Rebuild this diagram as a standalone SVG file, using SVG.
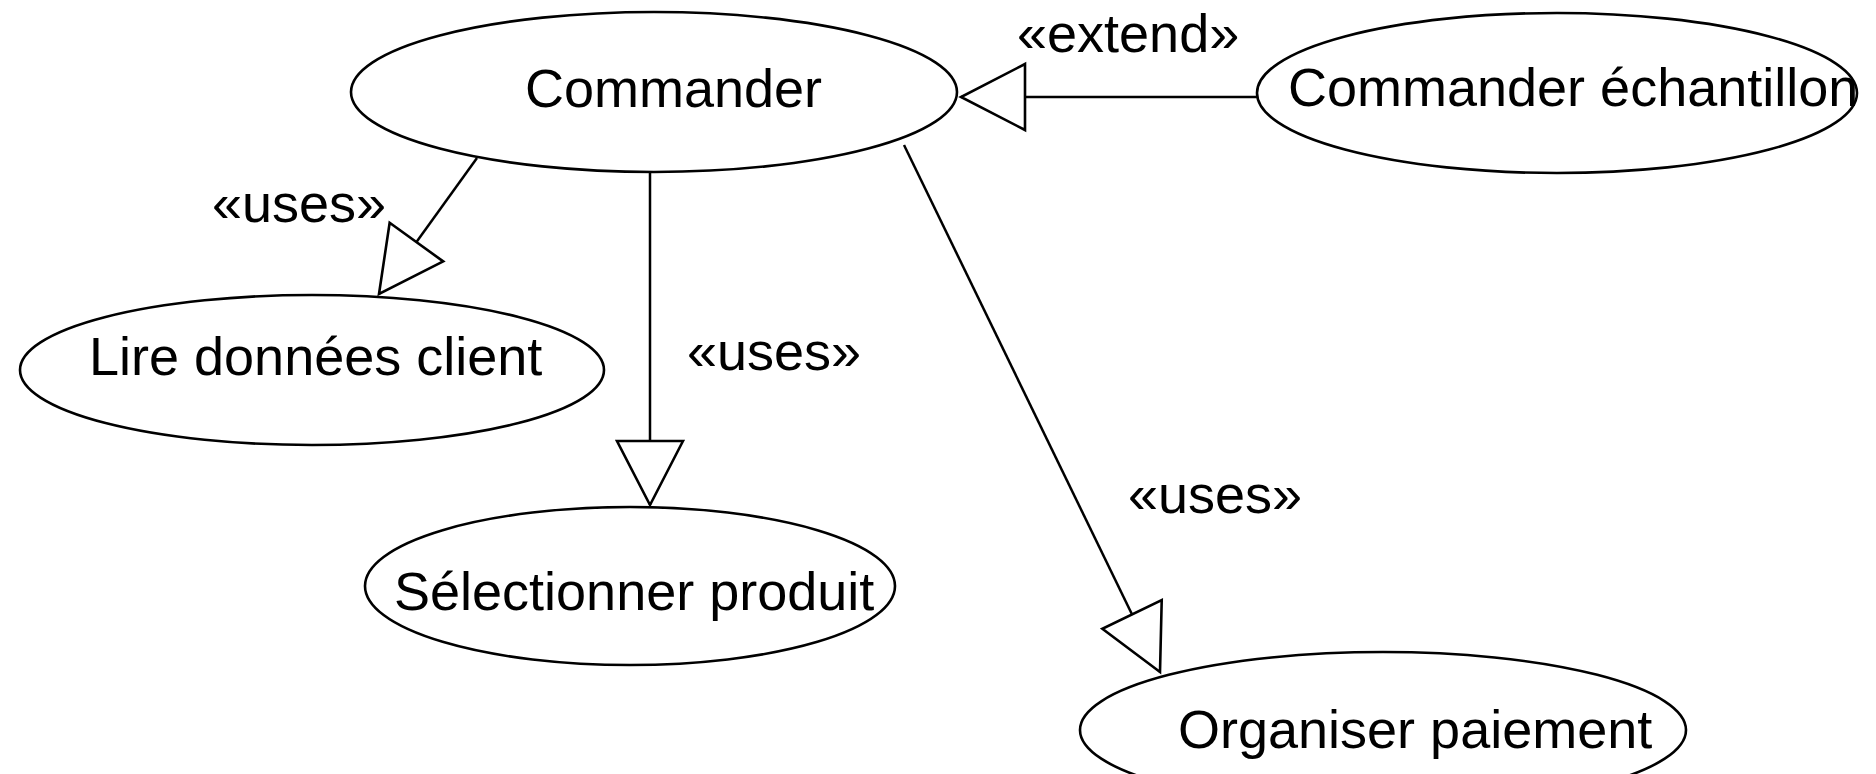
<svg xmlns="http://www.w3.org/2000/svg" width="1876" height="774" viewBox="0 0 1876 774">
  <defs>
    <style>
      .uc { fill: #ffffff; stroke: #000000; stroke-width: 2.6; }
      .lbl { font-family: "Liberation Sans", Arial, sans-serif; font-size: 54px; fill: #000000; }
      .rel { fill: none; stroke: #000000; stroke-width: 2.5; }
    </style>
    <!-- hollow triangle head shared by every relation -->
    <marker id="hollow" markerUnits="userSpaceOnUse" markerWidth="70" markerHeight="72" viewBox="-3 -3 70 72" refX="64" refY="33" orient="auto">
      <path d="M0,0 L64,33 L0,66 Z" fill="#ffffff" stroke="#000000" stroke-width="2.6" stroke-linejoin="miter"/>
    </marker>
  </defs>
  <rect width="1876" height="774" fill="#ffffff"/>

  <g id="connectors">
    <line class="rel" x1="477" y1="158" x2="379" y2="294" marker-end="url(#hollow)"/>
    <line class="rel" x1="650" y1="172" x2="650" y2="505" marker-end="url(#hollow)"/>
    <line class="rel" x1="904" y1="145" x2="1160" y2="672" marker-end="url(#hollow)"/>
    <line class="rel" x1="1257" y1="97" x2="961" y2="97" marker-end="url(#hollow)"/>
    <text class="lbl" x="212" y="222">«uses»</text>
    <text class="lbl" x="687" y="370">«uses»</text>
    <text class="lbl" x="1128" y="513">«uses»</text>
    <text class="lbl" x="1017" y="52">«extend»</text>
  </g>

  <g id="commander">
    <ellipse class="uc" cx="654" cy="92" rx="303" ry="80"/>
    <text class="lbl" x="525" y="107">Commander</text>
  </g>

  <g id="commander-echantillon">
    <ellipse class="uc" cx="1557" cy="93" rx="300" ry="80"/>
    <text class="lbl" x="1288" y="106">Commander échantillon</text>
  </g>

  <g id="lire-donnees-client">
    <ellipse class="uc" cx="312" cy="370" rx="292" ry="75"/>
    <text class="lbl" x="89" y="375">Lire données client</text>
  </g>

  <g id="selectionner-produit">
    <ellipse class="uc" cx="630" cy="586" rx="265" ry="79"/>
    <text class="lbl" x="394" y="610">Sélectionner produit</text>
  </g>

  <g id="organiser-paiement">
    <ellipse class="uc" cx="1383" cy="730" rx="303" ry="78"/>
    <text class="lbl" x="1178" y="748">Organiser paiement</text>
  </g>
</svg>
